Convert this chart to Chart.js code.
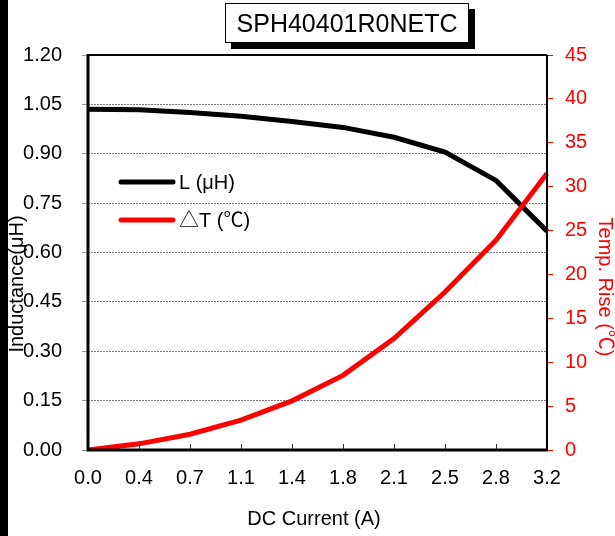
<!DOCTYPE html>
<html>
<head>
<meta charset="utf-8">
<script src="https://cdn.jsdelivr.net/npm/chart.js@4"></script>
<style>
  html, body { margin:0; padding:0; background:#fff; }
  #wrap { position:relative; width:615px; height:536px; }
  #title {
    position:absolute; left:225px; top:3px; width:242px; height:38px;
    border:1px solid #000; background:#fff; box-shadow:6px 6px 0 #000;
    font:25px "Liberation Sans", Arial, sans-serif; color:#000;
    display:flex; align-items:center; justify-content:center; z-index:2;
  }
  canvas { position:absolute; left:0; top:0; }
</style>
</head>
<body>
<div id="wrap">
  <div id="title">SPH40401R0NETC</div>
  <canvas id="c" width="615" height="536"></canvas>
</div>
<script>
// 데이터
const currentLabels = ['0.0','0.4','0.7','1.1','1.4','1.8','2.1','2.5','2.8','3.2'];
const inductance    = [1.035, 1.034, 1.025, 1.014, 0.998, 0.980, 0.950, 0.905, 0.819, 0.665];
const tempRise      = [0, 0.7, 1.8, 3.4, 5.6, 8.5, 12.7, 18.0, 23.9, 31.5];

const FONT = '"Liberation Sans", Arial, sans-serif';
const FONT_SYM = '"Liberation Sans", "Noto Sans CJK JP", sans-serif'; // ℃, △ 은 CJK 글꼴로
const RED = '#ff0000';

// 틀, 축 제목, 범례 직접 그리기
const decor = {
  id: 'decor',
  beforeDraw(chart){
    const ctx = chart.ctx;
    ctx.save();
    ctx.fillStyle = '#000';
    ctx.fillRect(0, 0, 8, chart.height);
    ctx.restore();
  },
  afterDraw(chart){
    const {ctx, chartArea:a} = chart;
    const xs = chart.scales.x;
    ctx.save();
    // x 눈금 (안쪽)
    ctx.strokeStyle = '#333'; ctx.lineWidth = 1;
    currentLabels.forEach((_, i)=>{
      const x = Math.round(xs.getPixelForTick(i)) + 0.5;
      ctx.beginPath(); ctx.moveTo(x, a.bottom); ctx.lineTo(x, a.bottom - 6); ctx.stroke();
    });
    // 프레임
    ctx.strokeStyle = '#000';
    ctx.lineWidth = 2;
    ctx.beginPath(); ctx.moveTo(a.left, a.top); ctx.lineTo(a.right, a.top); ctx.stroke();
    ctx.beginPath(); ctx.moveTo(a.right, a.top); ctx.lineTo(a.right, a.bottom); ctx.stroke();
    ctx.lineWidth = 3;
    ctx.beginPath(); ctx.moveTo(a.left, a.top - 1); ctx.lineTo(a.left, a.bottom); ctx.lineTo(a.right + 1, a.bottom); ctx.stroke();

    // 축 제목
    ctx.font = '20px ' + FONT;
    ctx.textAlign = 'center'; ctx.textBaseline = 'middle';
    ctx.fillStyle = '#000';
    ctx.fillText('DC Current (A)', 314, 519);

    ctx.save();
    ctx.translate(17, 284); ctx.rotate(-Math.PI/2);
    ctx.fillText('Inductance(μH)', 0, 0);
    ctx.restore();

    ctx.font = '20px ' + FONT_SYM;
    ctx.save();
    ctx.fillStyle = RED;
    ctx.translate(605, 287); ctx.rotate(Math.PI/2);
    ctx.fillText('Temp. Rise (℃)', 0, 0);
    ctx.restore();

    // 범례
    const items = [['L (μH)', '#000', 182], ['△T (℃)', RED, 220]];
    items.forEach(([t, c, y])=>{
      ctx.strokeStyle = c; ctx.lineWidth = 5; ctx.lineCap = 'round';
      ctx.beginPath(); ctx.moveTo(121, y); ctx.lineTo(173, y); ctx.stroke();
      ctx.fillStyle = '#000'; ctx.textAlign = 'left';
      ctx.fillText(t, 179, y + 1);
    });
    ctx.restore();
  }
};

new Chart(document.getElementById('c'), {
  type: 'line',
  data: {
    labels: currentLabels,
    datasets: [
      { label:'L (μH)', data: inductance, yAxisID:'y', borderColor:'#000', borderWidth:5,
        pointRadius:0, tension:0, order:1 },
      { label:'△T (℃)', data: tempRise, yAxisID:'y2', borderColor:RED, borderWidth:5,
        pointRadius:0, tension:0, order:0 }
    ]
  },
  options: {
    responsive:false, animation:false,
    layout:{ padding:{ top:55, left:0, right:0, bottom:0 } },
    plugins:{ legend:{ display:false }, tooltip:{ enabled:false } },
    scales:{
      x:{
        type:'category', offset:false,
        grid:{ display:false, drawTicks:false },
        border:{ display:false },
        ticks:{ color:'#000', font:{ size:20, family:FONT }, padding:16, maxRotation:0, autoSkip:false },
        afterFit(s){ s.height = 86; }
      },
      y:{
        position:'left', min:0, max:1.2,
        grid:{ color:'#777', lineWidth:1, tickColor:'#999', tickLength:6, tickBorderDash:[] },
        border:{ display:false, dash:[2,1] },
        ticks:{ stepSize:0.15, color:'#000', font:{ size:20, family:FONT }, padding:20,
                callback:v=>Number(v).toFixed(2) },
        afterFit(s){ s.width = 88; }
      },
      y2:{
        position:'right', min:0, max:45,
        grid:{ drawOnChartArea:false, tickColor:RED, tickLength:6 },
        border:{ display:false },
        ticks:{ stepSize:5, color:RED, font:{ size:20, family:FONT }, padding:12 },
        afterFit(s){ s.width = 68; }
      }
    }
  },
  plugins:[decor]
});
</script>
</body>
</html>
